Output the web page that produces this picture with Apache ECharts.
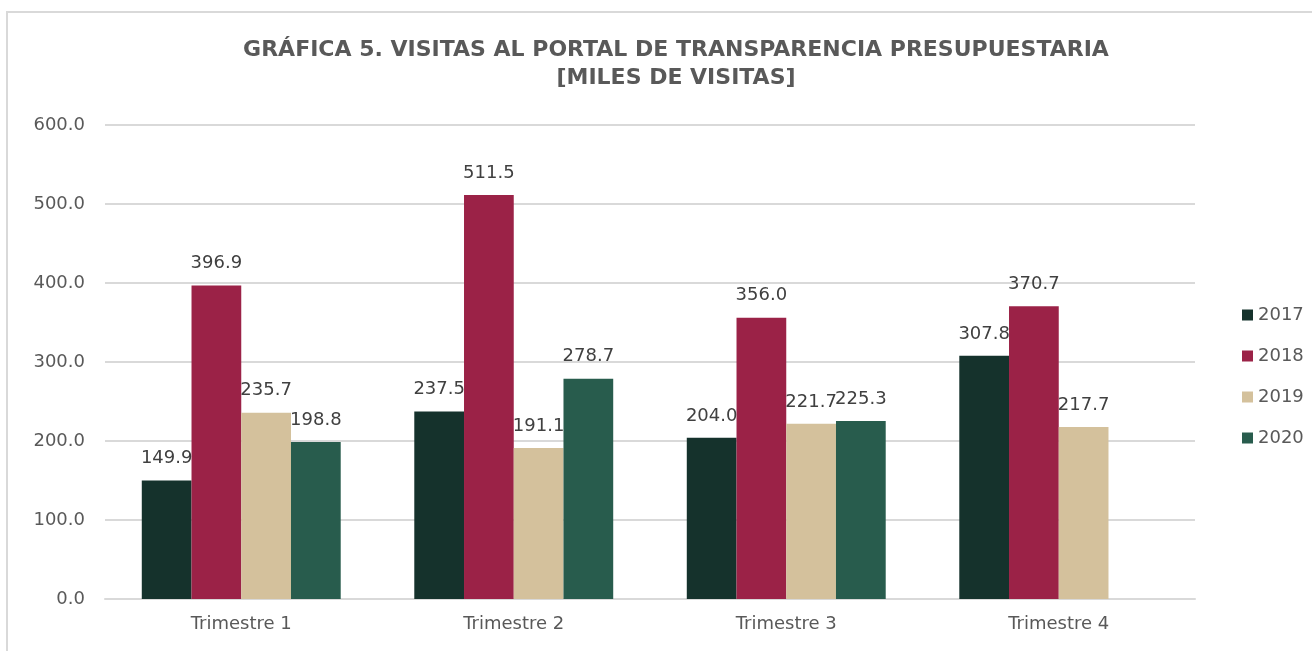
<!DOCTYPE html>
<html>
<head>
<meta charset="utf-8">
<script src="https://cdn.jsdelivr.net/npm/echarts@6/dist/echarts.min.js"></script>
<style>
  html, body { margin: 0; padding: 0; background: #fff; }
  #chart { width: 1312px; height: 651px; }
</style>
</head>
<body>
<div id="chart"></div>
<script>
const quarters = ["Trimestre 1", "Trimestre 2", "Trimestre 3", "Trimestre 4"];
const years = ["2017", "2018", "2019", "2020"];
const v2017 = [149.9, 237.5, 204.0, 307.8];
const v2018 = [396.9, 511.5, 356.0, 370.7];
const v2019 = [235.7, 191.1, 221.7, 217.7];
const v2020 = [198.8, 278.7, 225.3, null];
const yTicks = { min: 0, max: 600, interval: 100 };

const colors = ["#15322c", "#9b2247", "#d4c19c", "#285c4d"];
const font = "DejaVu Sans";

const chart = echarts.init(document.getElementById("chart"), null, { renderer: "canvas" });

const seriesData = [v2017, v2018, v2019, v2020];

chart.setOption({
  animation: false,
  color: colors,
  textStyle: { fontFamily: font },
  graphic: [
    {
      type: "rect",
      shape: { x: 7, y: 12, width: 1400, height: 700 },
      style: { fill: "none", stroke: "#d9d9d9", lineWidth: 2 },
      silent: true,
    },
  ],
  title: {
    text: "GRÁFICA 5. VISITAS AL PORTAL DE TRANSPARENCIA PRESUPUESTARIA\n[MILES DE VISITAS]",
    left: 671,
    textAlign: "center",
    top: 31,
    textStyle: {
      fontFamily: font,
      fontWeight: "bold",
      fontSize: 22,
      lineHeight: 28,
      color: "#595959",
    },
  },
  legend: {
    orient: "vertical",
    left: 1237,
    top: 301,
    itemWidth: 11,
    itemHeight: 11,
    itemGap: 23,
    icon: "rect",
    data: years,
    textStyle: { fontFamily: font, fontSize: 18, color: "#595959" },
  },
  grid: { left: 105, right: 117, top: 125, bottom: 52, containLabel: false },
  xAxis: {
    type: "category",
    data: quarters,
    axisLine: { lineStyle: { color: "#d9d9d9", width: 2 } },
    axisTick: { show: false },
    axisLabel: { fontFamily: font, fontSize: 18, color: "#595959", margin: 16 },
  },
  yAxis: {
    type: "value",
    min: yTicks.min,
    max: yTicks.max,
    interval: yTicks.interval,
    axisLine: { show: false },
    axisTick: { show: false },
    axisLabel: {
      fontFamily: font,
      fontSize: 18,
      color: "#595959",
      margin: 20,
      formatter: (v) => v.toFixed(1),
    },
    splitLine: { lineStyle: { color: "#d9d9d9", width: 2 } },
  },
  series: years.map((y, i) => ({
    name: y,
    type: "bar",
    data: seriesData[i],
    barGap: "0%",
    barCategoryGap: "27%",
    label: {
      show: true,
      position: "top",
      distance: 13,
      fontFamily: font,
      fontSize: 18,
      color: "#404040",
      formatter: (p) => (p.value == null ? "" : Number(p.value).toFixed(1)),
    },
  })),
});
</script>
</body>
</html>
